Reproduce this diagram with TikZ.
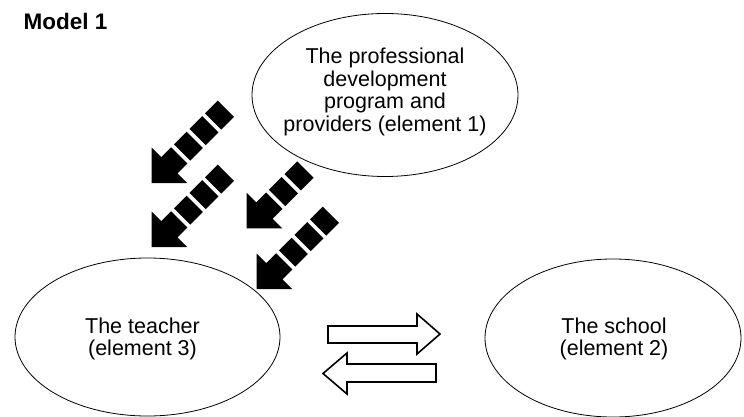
\documentclass[tikz,border=0pt]{standalone}
\usepackage{fontspec}
\setmainfont{Liberation Sans}
\usetikzlibrary{shapes.geometric}
\newcommand\blockarrow[3]{%
  \begin{scope}[shift={(#1,#2)},rotate=45]
    \fill[black] (0,0) -- (25,-25) -- (25,-11.5) -- (39,-11.5) -- (39,11.5) -- (25,11.5) -- (25,25) -- cycle;
    \foreach \k in {1,...,#3} {\fill[black] ({43+22*(\k-1)},-11.5) rectangle ({61+22*(\k-1)},11.5);}
  \end{scope}}
\begin{document}
\begin{tikzpicture}[x=1pt,y=-1pt,
  oval/.style={draw=black,line width=0.8pt,ellipse,inner sep=0pt},
  txt/.style={align=center,inner sep=0pt,font=\fontsize{21.5}{22.8}\selectfont},
  titletext/.style={inner sep=0pt,anchor=base west,font=\bfseries\fontsize{22.5}{24}\selectfont},
  hollow/.style={draw=black,line width=1.6pt,fill=white,line join=miter}]
\useasboundingbox (0,0) rectangle (744,417);
\node[titletext] (title) at (23.5,30) {Model 1};
% ellipses
\node[oval,minimum width=266pt,minimum height=163pt] (e1) at (385,95) {};
\node[oval,minimum width=265pt,minimum height=158pt] (e3) at (147.5,337) {};
\node[oval,minimum width=256pt,minimum height=158pt] (e2) at (613,338) {};
% texts
\node[txt] (t1) at (385,92) {The professional\\development\\program and\\providers (element 1)};
\node[txt] (t3) at (142.5,339) {The teacher\\(element 3)};
\node[txt] (t2) at (614,339) {The school\\(element 2)};
% block arrows
\blockarrow{151.7}{183}{3}
\blockarrow{151.7}{247}{3}
\blockarrow{246.7}{228.3}{2}
\blockarrow{256.7}{289}{3}
% hollow arrows
\draw[hollow] (328,326) -- (417,326) -- (417,314) -- (440,334) -- (417,354) -- (417,343) -- (328,343) -- cycle;
\draw[hollow] (436,364) -- (347,364) -- (347,353) -- (323,373.5) -- (347,394) -- (347,382) -- (436,382) -- cycle;
\end{tikzpicture}
\end{document}
